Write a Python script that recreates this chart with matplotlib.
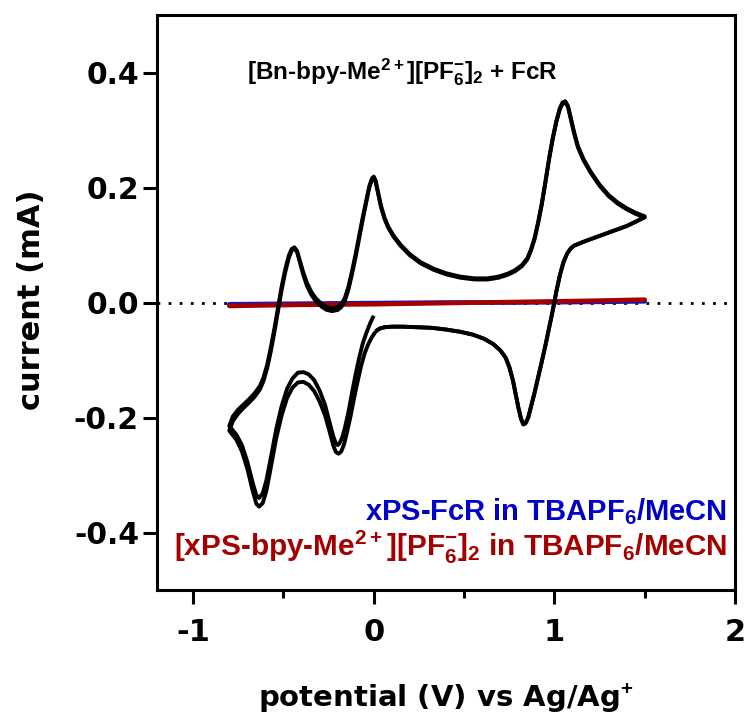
import matplotlib
matplotlib.use('Agg')
import matplotlib.pyplot as plt

plt.rcParams['mathtext.fontset'] = 'custom'
plt.rcParams['mathtext.rm'] = 'Liberation Sans:bold'
plt.rcParams['mathtext.it'] = 'Liberation Sans:bold'
plt.rcParams['mathtext.bf'] = 'Liberation Sans:bold'
plt.rcParams['mathtext.default'] = 'rm'

# CV of [Bn-bpy-Me2+][PF6-]2 + FcR (V vs Ag/Ag+, mA)
# cycle 1: 0 V -> -0.8 V
c1_down_v = [-0.005, -0.02, -0.04, -0.06, -0.08, -0.10, -0.12, -0.14, -0.16, -0.175,
             -0.19, -0.20, -0.21, -0.225, -0.245, -0.27, -0.30, -0.33, -0.36, -0.39,
             -0.42, -0.45, -0.48, -0.51, -0.54, -0.57, -0.595, -0.615, -0.635, -0.65,
             -0.67, -0.70, -0.73, -0.76, -0.80]
c1_down_i = [-0.026, -0.036, -0.052, -0.07, -0.095, -0.124, -0.156, -0.19, -0.218, -0.235,
             -0.245, -0.248, -0.245, -0.232, -0.208, -0.178, -0.153, -0.135, -0.125, -0.121,
             -0.122, -0.132, -0.15, -0.18, -0.22, -0.27, -0.31, -0.332, -0.34, -0.335,
             -0.314, -0.277, -0.248, -0.23, -0.215]
# cycle 2: 0 V -> -0.8 V
c2_down_v = [0.005, -0.01, -0.03, -0.05, -0.07, -0.09, -0.11, -0.13, -0.15, -0.165,
             -0.18, -0.195, -0.21, -0.225, -0.245, -0.27, -0.30, -0.33, -0.36, -0.39,
             -0.42, -0.45, -0.48, -0.51, -0.54, -0.57, -0.595, -0.615, -0.635, -0.65,
             -0.67, -0.70, -0.73, -0.76, -0.80]
c2_down_i = [-0.053, -0.06, -0.072, -0.088, -0.11, -0.138, -0.168, -0.2, -0.228, -0.247,
             -0.259, -0.263, -0.26, -0.248, -0.224, -0.196, -0.172, -0.154, -0.143, -0.138,
             -0.139, -0.148, -0.166, -0.196, -0.236, -0.287, -0.328, -0.349, -0.355, -0.35,
             -0.328, -0.289, -0.259, -0.239, -0.223]
# -0.8 V -> 1.5 V
up_v = [-0.78, -0.75, -0.72, -0.69, -0.66, -0.63, -0.61, -0.59, -0.57, -0.55,
        -0.53, -0.51, -0.49, -0.47, -0.455, -0.44, -0.425, -0.41, -0.39, -0.37,
        -0.345, -0.32, -0.29, -0.26, -0.23, -0.20, -0.18, -0.16, -0.14, -0.12,
        -0.10, -0.08, -0.06, -0.04, -0.025, -0.01, 0.0, 0.01, 0.025, 0.04,
        0.06, 0.08, 0.11, 0.15, 0.20, 0.26, 0.33, 0.40, 0.48, 0.56,
        0.63, 0.69, 0.74, 0.78, 0.82, 0.85, 0.87, 0.89, 0.91, 0.93,
        0.95, 0.97, 0.99, 1.01, 1.03, 1.045, 1.06, 1.075, 1.09, 1.11,
        1.13, 1.16, 1.20, 1.25, 1.30, 1.35, 1.40, 1.45, 1.50]
c1_up_i = [-0.198, -0.186, -0.177, -0.168, -0.158, -0.145, -0.13, -0.108, -0.078, -0.045,
           -0.008, 0.028, 0.058, 0.082, 0.093, 0.096, 0.09, 0.074, 0.052, 0.034,
           0.018, 0.007, -0.002, -0.008, -0.01, -0.008, -0.003, 0.008, 0.028, 0.055,
           0.085, 0.118, 0.15, 0.18, 0.202, 0.216, 0.219, 0.212, 0.19, 0.168,
           0.147, 0.132, 0.116, 0.1, 0.084, 0.07, 0.059, 0.051, 0.045, 0.042,
           0.042, 0.045, 0.05, 0.056, 0.065, 0.077, 0.092, 0.112, 0.14, 0.172,
           0.21, 0.25, 0.285, 0.315, 0.338, 0.348, 0.35, 0.342, 0.322, 0.295,
           0.272, 0.25, 0.228, 0.205, 0.187, 0.174, 0.164, 0.156, 0.15]
c2_up_i = [-0.206, -0.193, -0.183, -0.174, -0.164, -0.151, -0.136, -0.114, -0.085, -0.051,
           -0.014, 0.022, 0.053, 0.078, 0.09, 0.094, 0.088, 0.071, 0.048, 0.029,
           0.013, 0.002, -0.007, -0.013, -0.015, -0.013, -0.008, 0.003, 0.023, 0.05,
           0.08, 0.113, 0.146, 0.177, 0.2, 0.214, 0.217, 0.21, 0.188, 0.166,
           0.145, 0.13, 0.114, 0.098, 0.082, 0.068, 0.057, 0.049, 0.043, 0.04,
           0.04, 0.043, 0.048, 0.054, 0.063, 0.075, 0.09, 0.11, 0.138, 0.17,
           0.208, 0.248, 0.283, 0.313, 0.336, 0.346, 0.348, 0.34, 0.32, 0.293,
           0.27, 0.248, 0.226, 0.203, 0.185, 0.172, 0.162, 0.154, 0.148]
# 1.5 V -> 0 V (both cycles overlap here)
back_v = [1.46, 1.40, 1.33, 1.26, 1.19, 1.14, 1.11, 1.09, 1.07, 1.05,
          1.03, 1.01, 0.99, 0.97, 0.95, 0.93, 0.91, 0.89, 0.87, 0.855,
          0.84, 0.828, 0.815, 0.80, 0.785, 0.77, 0.75, 0.73, 0.70, 0.66,
          0.61, 0.55, 0.48, 0.40, 0.32, 0.24, 0.16, 0.10, 0.06, 0.035,
          0.02]
back_i = [0.142, 0.133, 0.125, 0.117, 0.109, 0.103, 0.099, 0.094, 0.085, 0.07,
          0.047, 0.018, -0.015, -0.045, -0.075, -0.103, -0.13, -0.157, -0.182, -0.2,
          -0.21, -0.212, -0.202, -0.182, -0.158, -0.135, -0.112, -0.096, -0.083, -0.072,
          -0.063, -0.056, -0.051, -0.047, -0.044, -0.043, -0.042, -0.042, -0.043, -0.045,
          -0.048]

# controls (flat lines)
ctrl_v = [-0.80, -0.40, 0.0, 0.40, 0.80, 1.20, 1.50]
fcr_i = [-0.003, -0.002, -0.001, 0.0, 0.0, 0.001, 0.002]
bpy_i = [-0.006, -0.004, -0.003, -0.001, 0.001, 0.003, 0.005]

xticks = [-1, 0, 1, 2]
yticks = [-0.4, -0.2, 0.0, 0.2, 0.4]

fig = plt.figure(figsize=(7.47, 7.25), dpi=100)
ax = fig.add_axes([0.2102, 0.1862, 0.7738, 0.7931])

ax.axhline(0, color='black', lw=2, linestyle=(0, (1, 3)), zorder=1)
ax.plot(ctrl_v, fcr_i, color='#1414c8', lw=3.3, solid_capstyle='round', zorder=2)
ax.plot(ctrl_v, bpy_i, color='#a50000', lw=3.3, solid_capstyle='round', zorder=3)

cyc1_v = c1_down_v + up_v + back_v
cyc1_i = c1_down_i + c1_up_i + back_i
cyc2_v = c2_down_v + up_v + back_v
cyc2_i = c2_down_i + c2_up_i + back_i
ax.plot(cyc1_v, cyc1_i, color='black', lw=2.8, solid_joinstyle='round', zorder=4)
ax.plot(cyc2_v, cyc2_i, color='black', lw=2.8, solid_joinstyle='round', zorder=4)

ax.set_xlim(-1.2, 2)
ax.set_ylim(-0.5, 0.5)
for s in ax.spines.values():
    s.set_linewidth(2.2)

ax.set_xticks(xticks)
ax.set_xticklabels([str(t) for t in xticks], fontsize=22, fontweight='bold', family='DejaVu Sans')
ax.set_xticks([-0.5, 0.5, 1.5], minor=True)
ax.set_yticks(yticks)
ax.set_yticklabels(['%.1f' % t for t in yticks], fontsize=21.5, fontweight='bold', family='DejaVu Sans')
ax.tick_params(which='major', length=10, width=2.2)
ax.tick_params(axis='y', which='major', pad=3)
ax.tick_params(axis='x', which='major', pad=10)
ax.tick_params(axis='x', which='minor', length=6, width=2.2)

fig.text(32 / 747, 1 - 300 / 725, 'current (mA)', rotation=90, ha='center', va='center',
         fontsize=22, fontweight='bold', family='DejaVu Sans')
fig.text(446 / 747, 1 - 707 / 725, 'potential (V) vs Ag/Ag$^{+}$', ha='center', va='baseline',
         fontsize=21, fontweight='bold', family='DejaVu Sans')

ax.text(0.16, 0.40, '[Bn-bpy-Me$^{2+}$][PF$_6^{-}$]$_2$ + FcR', ha='center', va='center',
        fontsize=17.5, fontweight='bold', family='Liberation Sans')
ax.text(1.955, -0.363, 'xPS-FcR in TBAPF$_6$/MeCN', ha='right', va='center',
        fontsize=21, fontweight='bold', family='Liberation Sans', color='#0000c8')
ax.text(1.955, -0.426, '[xPS-bpy-Me$^{2+}$][PF$_6^{-}$]$_2$ in TBAPF$_6$/MeCN', ha='right', va='center',
        fontsize=21.4, fontweight='bold', family='Liberation Sans', color='#a50000')

fig.savefig('out.png', dpi=100)
